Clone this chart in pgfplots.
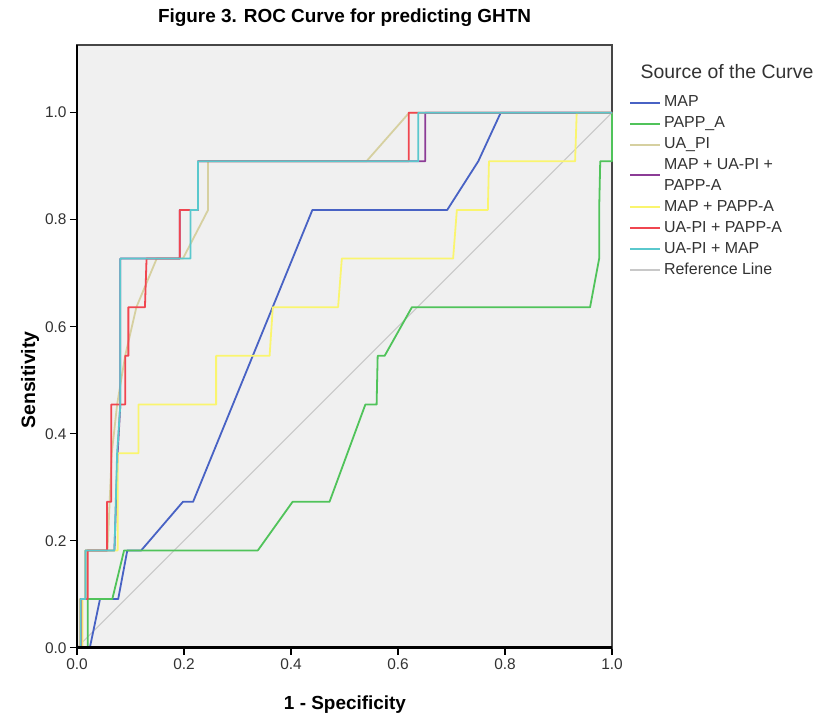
\documentclass[border=0pt]{standalone}
\usepackage{fontspec}
\setmainfont{Liberation Sans}
\usepackage{pgfplots}
\pgfplotsset{compat=1.18}
\definecolor{bgc}{RGB}{240,240,240}
\definecolor{framec}{RGB}{70,70,70}
\definecolor{tickc}{RGB}{50,50,50}
\definecolor{cmap}{RGB}{72,98,196}
\definecolor{cpapp}{RGB}{80,195,90}
\definecolor{cua}{RGB}{214,208,160}
\definecolor{cpurple}{RGB}{140,60,150}
\definecolor{cyellow}{RGB}{250,245,110}
\definecolor{cred}{RGB}{240,70,80}
\definecolor{ccyan}{RGB}{90,200,205}
\definecolor{cref}{RGB}{200,200,200}
\begin{document}
\begin{tikzpicture}
\useasboundingbox (0,0) rectangle (822bp,720bp);
\begin{axis}[
  at={(77bp,72.3bp)}, anchor=south west,
  scale only axis, width=535bp, height=602.7bp,
  xmin=0, xmax=1, ymin=0, ymax=1.1265,
  clip=false,
  axis background/.style={fill=bgc},
  axis line style={draw=framec, line width=2.2bp},
  xtick={0,0.2,0.4,0.6,0.8,1.0}, ytick={0,0.2,0.4,0.6,0.8,1.0},
  xtick pos=bottom, ytick pos=left,
  tick align=outside, major tick length=7bp,
  tick style={black, line width=1.2bp},
  /pgf/number format/fixed, /pgf/number format/fixed zerofill,
  /pgf/number format/precision=1, /pgf/number format/assume math mode=true,
  ticklabel style={font=\fontsize{15.5}{17}\selectfont, text=tickc},
  legend cell align=left,
  legend style={at={(1.026,0.925)}, anchor=north west, draw=none, fill=none,
    font=\fontsize{16}{17}\selectfont, text=tickc, row sep=0bp,
    nodes={text height=12bp, text depth=4bp, inner ysep=2.45bp, inner xsep=3bp}},
  legend image code/.code={\draw[#1, line width=2bp] (0bp,0bp) -- (30bp,0bp);},
  every axis plot/.append style={line width=1.8bp, line join=round},
]
\addplot[cref, line width=1.1bp, forget plot] coordinates {(0,0) (1,1)};
\addplot[cmap] coordinates {(0.024,0) (0.043,0.0909) (0.077,0.0909) (0.094,0.1818) (0.12,0.1818) (0.198,0.2727) (0.217,0.2727) (0.44,0.8182) (0.692,0.8182) (0.75,0.9091) (0.792,1) (1,1)};
\addlegendentry{MAP}
\addplot[cpapp] coordinates {(0.02,0) (0.02,0.0909) (0.066,0.0909) (0.088,0.1818) (0.338,0.1818) (0.403,0.2727) (0.472,0.2727) (0.539,0.4545) (0.56,0.4545) (0.562,0.5455) (0.575,0.5455) (0.626,0.6364) (0.959,0.6364) (0.976,0.7273) (0.976,0.8182) (0.978,0.9091) (1,0.9091) (1,1)};
\addlegendentry{PAPP\_A}
\addplot[cua] coordinates {(0.005,0) (0.005,0.0909) (0.016,0.0909) (0.016,0.1818) (0.057,0.1818) (0.065,0.3636) (0.075,0.4545) (0.09,0.5455) (0.111,0.6364) (0.149,0.7273) (0.198,0.7273) (0.245,0.8182) (0.245,0.9091) (0.541,0.9091) (0.621,1) (1,1)};
\addlegendentry{UA\_PI}
\addplot[cpurple, legend image code/.code={\draw[cpurple, line width=2bp] (0bp,-9bp) -- (30bp,-9bp);}] coordinates {(0.007,0) (0.007,0.0909) (0.016,0.0909) (0.016,0.1818) (0.07,0.1818) (0.076,0.3636) (0.081,0.4545) (0.081,0.7273) (0.192,0.7273) (0.192,0.8182) (0.226,0.8182) (0.226,0.9091) (0.651,0.9091) (0.651,1) (1,1)};
\addlegendentry{MAP + UA-PI +}
\addlegendimage{opacity=0}
\addlegendentry{PAPP-A}
\addplot[cyellow] coordinates {(0.01,0) (0.01,0.0909) (0.016,0.0909) (0.016,0.1818) (0.076,0.1818) (0.076,0.3636) (0.115,0.3636) (0.115,0.4545) (0.26,0.4545) (0.26,0.5455) (0.36,0.5455) (0.366,0.6364) (0.488,0.6364) (0.495,0.7273) (0.703,0.7273) (0.71,0.8182) (0.768,0.8182) (0.77,0.9091) (0.931,0.9091) (0.934,1) (1,1)};
\addlegendentry{MAP + PAPP-A}
\addplot[cred] coordinates {(0.008,0) (0.008,0.0909) (0.02,0.0909) (0.02,0.1818) (0.056,0.1818) (0.056,0.2727) (0.064,0.2727) (0.064,0.4545) (0.09,0.4545) (0.09,0.5455) (0.096,0.5455) (0.096,0.6364) (0.127,0.6364) (0.13,0.7273) (0.192,0.7273) (0.192,0.8182) (0.226,0.8182) (0.226,0.9091) (0.62,0.9091) (0.62,1) (1,1)};
\addlegendentry{UA-PI + PAPP-A}
\addplot[ccyan] coordinates {(0.007,0) (0.007,0.0909) (0.016,0.0909) (0.016,0.1818) (0.07,0.1818) (0.075,0.3636) (0.081,0.4545) (0.081,0.7273) (0.212,0.7273) (0.212,0.8182) (0.226,0.8182) (0.226,0.9091) (0.638,0.9091) (0.638,1) (1,1)};
\addlegendentry{UA-PI + MAP}
\addlegendimage{cref}
\addlegendentry{Reference Line}
\draw[black, line width=2.8bp] (rel axis cs:0,1) -- (rel axis cs:0,0) -- (rel axis cs:1,0);
\end{axis}
\node[font=\bfseries\fontsize{19}{22}\selectfont] at (344.5bp,702bp) {Figure 3. ROC Curve for predicting GHTN};
\node[font=\bfseries\fontsize{19.5}{22}\selectfont, rotate=90] at (30bp,340bp) {Sensitivity};
\node[font=\bfseries\fontsize{19}{22}\selectfont] at (345bp,15bp) {1 - Specificity};
\node[font=\fontsize{19.5}{22}\selectfont, text=tickc] at (727bp,648bp) {Source of the Curve};
\end{tikzpicture}
\end{document}
